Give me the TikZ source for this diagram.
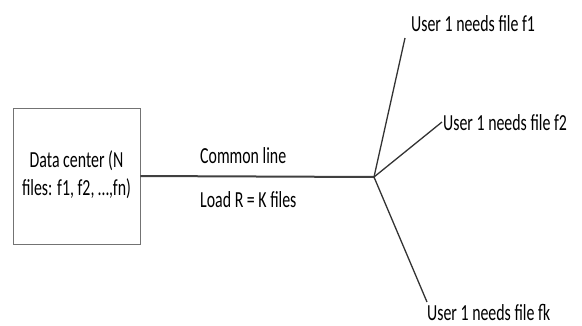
\documentclass[tikz,border=0pt]{standalone}
\usepackage{graphicx}
\usepackage{fontspec}
\setmainfont{Carlito}
\newcommand\cond[1]{\scalebox{0.69}[1]{\fontsize{23}{28}\selectfont #1}}
\begin{document}
\begin{tikzpicture}[x=1pt,y=-1pt,
  lbl/.style={inner sep=0pt, text=black},
  wire/.style={draw=black!75, line width=2pt},
  thinwire/.style={draw=black!80, line width=1.3pt}]
\useasboundingbox (0,0) rectangle (582,325);
\node[draw=black!55, line width=0.8pt, minimum width=127pt, minimum height=136pt, inner sep=0pt] (dc) at (76.5,176) {};
\node[lbl] (dct) at (dc.center) {\cond{\begin{tabular}{@{}c@{}}Data center (N\\files: f1, f2, \dots,fn)\end{tabular}}};
\coordinate (j) at (374,177);
\draw[wire] (dc.east) -- (j);
\node[lbl, anchor=base west] (cl) at (200,163) {\cond{Common line}};
\node[lbl, anchor=base west] (lr) at (200,207) {\cond{Load R = K files}};
\node[lbl, anchor=base west] (u1) at (411,31) {\cond{User 1 needs file f1}};
\node[lbl, anchor=base west] (u2) at (443,130) {\cond{User 1 needs file f2}};
\node[lbl, anchor=base west] (uk) at (427,320) {\cond{User 1 needs file fk}};
\coordinate (e1) at (405,38);
\coordinate (e2) at (442,122);
\coordinate (ek) at (427,302);
\draw[thinwire] (j) -- (e1);
\draw[thinwire] (j) -- (e2);
\draw[thinwire] (j) -- (ek);
\end{tikzpicture}
\end{document}
